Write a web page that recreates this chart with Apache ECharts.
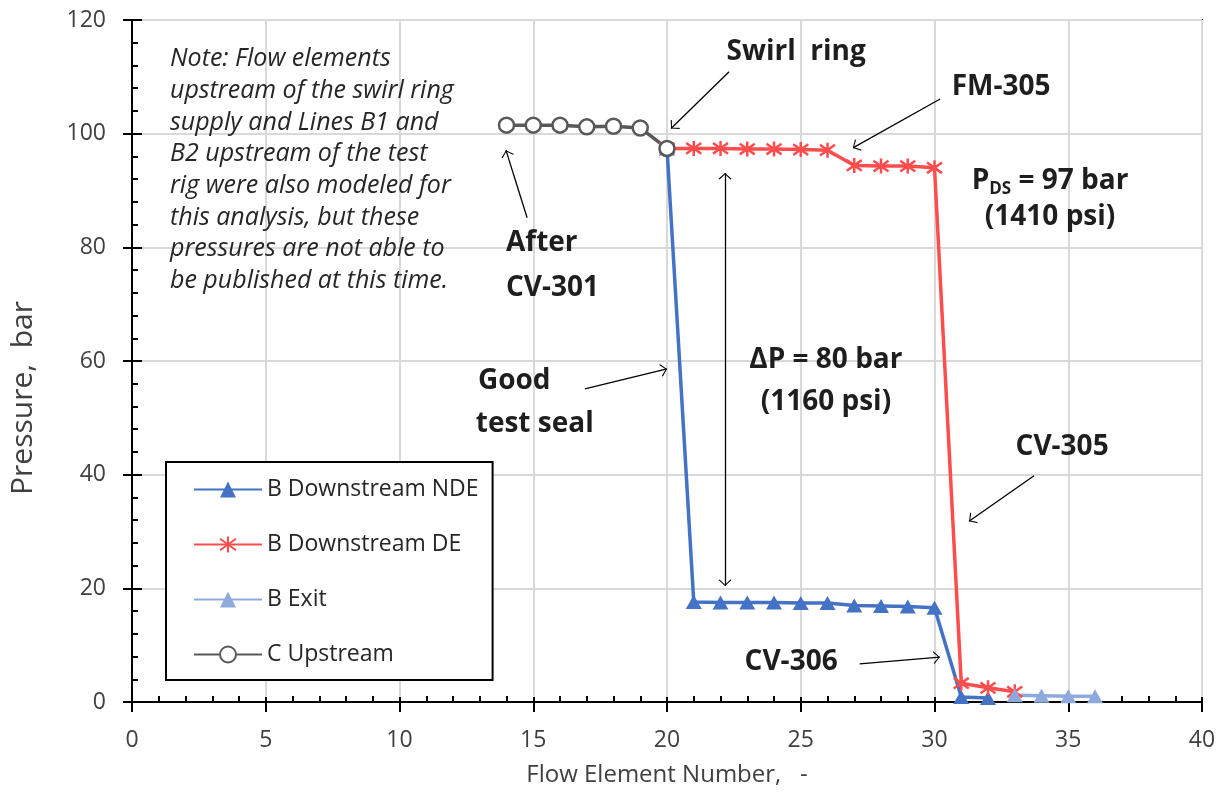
<!DOCTYPE html>
<html>
<head>
<meta charset="utf-8">
<script src="https://cdn.jsdelivr.net/npm/echarts@6/dist/echarts.min.js"></script>
<style>
html, body { margin: 0; padding: 0; background: #fff; }
#chart { width: 1220px; height: 795px; }
</style>
</head>
<body>
<div id="chart"></div>
<script>
// flow element numbers and pressures (bar)
var cUpX = [14, 15, 16, 17, 18, 19, 20]
var cUpP = [101.5, 101.5, 101.5, 101.2, 101.3, 101.0, 97.4]

var ndeX = [20, 21, 22, 23, 24, 25, 26, 27, 28, 29, 30, 31, 32]
var ndeP = [97.4, 17.6, 17.5, 17.5, 17.5, 17.4, 17.4, 17.0, 16.9, 16.8, 16.6, 0.9, 0.7]

var deX = [20, 21, 22, 23, 24, 25, 26, 27, 28, 29, 30, 31, 32, 33]
var deP = [97.4, 97.4, 97.4, 97.3, 97.3, 97.2, 97.1, 94.4, 94.3, 94.3, 94.0, 3.3, 2.5, 1.8]

var exitX = [33, 34, 35, 36]
var exitP = [1.2, 1.1, 1.0, 1.0]

var seriesNames = ['B Downstream NDE', 'B Downstream DE', 'B Exit', 'C Upstream']

var noteText = 'Note: Flow elements\nupstream of the swirl ring\nsupply and Lines B1 and\nB2 upstream of the test\nrig were also modeled for\nthis analysis, but these\npressures are not able to\nbe published at this time.'

// annotation texts, anchored in data units
var labels = [
    { x: 24.83, y: 114.4, text: 'Swirl  ring' },
    { x: 32.49, y: 108.2, text: 'FM-305' },
    { x: 34.32, y: 91.6, text: '{b|P}{s|DS}{b| = 97 bar}' },
    { x: 34.32, y: 85.4, text: '(1410 psi)' },
    { x: 13.98, y: 80.8, text: 'After', align: 'left' },
    { x: 13.98, y: 72.8, text: 'CV-301', align: 'left' },
    { x: 12.93, y: 56.5, text: 'Good', align: 'left' },
    { x: 12.85, y: 48.9, text: 'test seal', align: 'left' },
    { x: 25.94, y: 60.2, text: '\u0394P = 80 bar' },
    { x: 25.94, y: 52.8, text: '(1160 psi)' },
    { x: 34.77, y: 44.9, text: 'CV-305' },
    { x: 24.64, y: 7.0, text: 'CV-306' }
]

// arrows: tail -> head, in data units
var arrows = [
    { from: [22.32, 110.9], to: [20.15, 100.9] },
    { from: [30.21, 106.1], to: [26.95, 97.5] },
    { from: [14.77, 85.2], to: [13.98, 97.1] },
    { from: [16.93, 55.1], to: [20.0, 58.6] },
    { from: [22.17, 93.1], to: [22.17, 20.4], both: true },
    { from: [33.72, 39.8], to: [31.29, 31.8] },
    { from: [27.2, 6.7], to: [30.2, 7.9] }
]

function zip(xs, ys) {
    return xs.map(function (x, i) { return [x, ys[i]] })
}

var FONT = 'Open Sans'
var starSymbol = 'path://M0,-7L0,7M-5,-5L5,5M-5,5L5,-5'
var headSymbol = 'path://M0,-12L0.01,-12L0,-12ZM0,0L7,11L5.8,12L0,2.4L-5.8,12L-7,11Z'

var chart = echarts.init(document.getElementById('chart'))

var axisLabelStyle = { color: '#404040', fontSize: 23, fontFamily: FONT }

var option = {
    backgroundColor: '#fff',
    animation: false,
    grid: {
        left: 132, right: 18, top: 20, bottom: 93,
        show: true, borderColor: '#000', borderWidth: 2
    },
    legend: {
        data: seriesNames,
        orient: 'vertical',
        left: 166, top: 462,
        padding: [16, 14, 14, 27],
        itemWidth: 68, itemHeight: 20, itemGap: 32,
        borderColor: '#000', borderWidth: 2,
        backgroundColor: '#fff',
        textStyle: { color: '#262626', fontSize: 23, fontFamily: FONT }
    },
    xAxis: [{
        type: 'value', min: 0, max: 40, interval: 5,
        name: 'Flow Element Number,   -',
        nameLocation: 'middle', nameGap: 61,
        nameTextStyle: { color: '#404040', fontSize: 24, fontFamily: FONT },
        axisLine: { onZero: false, lineStyle: { color: '#000', width: 2 } },
        axisTick: { inside: true, length: 5, lineStyle: { color: '#000', width: 2 } },
        minorTick: { show: true, splitNumber: 5, length: 6, lineStyle: { color: '#000', width: 2 } },
        axisLabel: Object.assign({ margin: 27 }, axisLabelStyle),
        splitLine: { lineStyle: { color: '#d9d9d9', width: 2 } }
    }, {
        type: 'value', min: 0, max: 40, interval: 5, position: 'bottom',
        axisLine: { show: false },
        axisTick: { inside: false, length: 10, lineStyle: { color: '#000', width: 2 } },
        axisLabel: { show: false },
        splitLine: { show: false }
    }],
    yAxis: [{
        type: 'value', min: 0, max: 120, interval: 20,
        name: 'Pressure,  bar',
        nameLocation: 'middle', nameGap: 94,
        nameTextStyle: { color: '#404040', fontSize: 30, fontFamily: FONT, padding: [0, 74, 0, 0] },
        axisLine: { onZero: false, lineStyle: { color: '#000', width: 2 } },
        axisTick: { inside: true, length: 10, lineStyle: { color: '#000', width: 2 } },
        minorTick: { show: true, splitNumber: 5, length: 6, lineStyle: { color: '#000', width: 2 } },
        axisLabel: Object.assign({ margin: 26 }, axisLabelStyle),
        splitLine: { lineStyle: { color: '#d9d9d9', width: 2 } }
    }, {
        type: 'value', min: 0, max: 120, interval: 20, position: 'left',
        axisLine: { show: false },
        axisTick: { inside: false, length: 9, lineStyle: { color: '#000', width: 2 } },
        axisLabel: { show: false },
        splitLine: { show: false }
    }],
    series: [
        {
            name: seriesNames[0], type: 'line', data: zip(ndeX, ndeP),
            symbol: 'triangle', symbolSize: [16, 14],
            lineStyle: { color: '#4472C4', width: 3.5 },
            itemStyle: { color: '#4472C4' }
        },
        {
            name: seriesNames[1], type: 'line', data: zip(deX, deP),
            symbol: starSymbol, symbolSize: 15,
            lineStyle: { color: '#FF4D4D', width: 3.5 },
            itemStyle: { color: '#FF4D4D', borderColor: '#FF4D4D', borderWidth: 2.5 }
        },
        {
            name: seriesNames[2], type: 'line', data: zip(exitX, exitP),
            symbol: 'triangle', symbolSize: [16, 14],
            lineStyle: { color: '#8EA9DB', width: 3.5 },
            itemStyle: { color: '#8EA9DB' }
        },
        {
            name: seriesNames[3], type: 'line', data: zip(cUpX, cUpP),
            symbol: 'circle', symbolSize: 15,
            lineStyle: { color: '#595959', width: 3.5 },
            itemStyle: { color: '#fff', borderColor: '#595959', borderWidth: 2.5 }
        },
        {
            name: 'annotations', type: 'scatter', data: [], silent: true,
            markPoint: {
                silent: true, symbol: 'circle', symbolSize: 0,
                data: labels.map(function (l) {
                    return {
                        coord: [l.x, l.y],
                        label: {
                            show: true, position: 'inside', formatter: l.text,
                            align: l.align || 'center', verticalAlign: 'middle',
                            color: '#1e1e1e', fontSize: 28, fontWeight: 'bold', fontFamily: FONT,
                            rich: {
                                b: { color: '#1e1e1e', fontSize: 28, fontWeight: 'bold', fontFamily: FONT, lineHeight: 32 },
                                s: { color: '#1e1e1e', fontSize: 17, fontWeight: 'bold', fontFamily: FONT, lineHeight: 32, verticalAlign: 'bottom', padding: [12, 0, 0, 0] }
                            }
                        }
                    }
                }).concat([{
                    coord: [1.42, 115.9],
                    label: {
                        show: true, position: 'inside', formatter: noteText,
                        align: 'left', verticalAlign: 'top',
                        color: '#262626', fontSize: 25, fontStyle: 'italic', fontFamily: FONT,
                        lineHeight: 31.7
                    }
                }])
            },
            markLine: {
                silent: true, animation: false,
                label: { show: false },
                lineStyle: { color: '#000', width: 1.3, type: 'solid' },
                symbol: ['none', headSymbol], symbolSize: [13, 13],
                data: arrows.map(function (a) {
                    return [
                        { coord: a.from, symbol: a.both ? headSymbol : 'none' },
                        { coord: a.to }
                    ]
                })
            }
        }
    ]
}

chart.setOption(option)
</script>
</body>
</html>
